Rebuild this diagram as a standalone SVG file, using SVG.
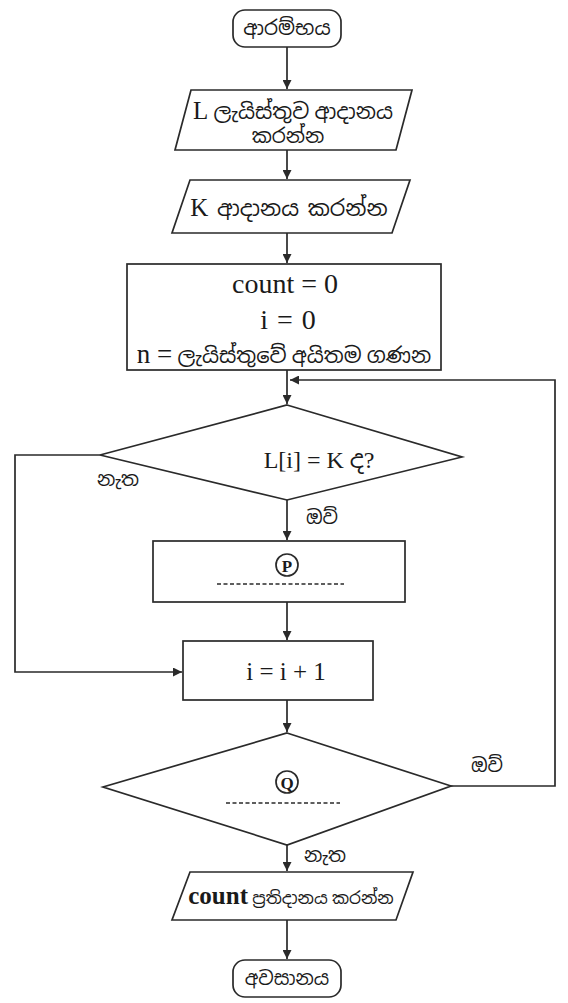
<svg xmlns="http://www.w3.org/2000/svg" width="568" height="1003" viewBox="0 0 568 1003">
<defs>
<style>
.s{fill:#fff;stroke:#2a2a2a;stroke-width:1.7}
.c{fill:none;stroke:#2a2a2a;stroke-width:1.7}
.t{font-family:"Liberation Serif","Noto Sans Sinhala","Noto Serif Sinhala",serif;fill:#1a1a1a;text-anchor:middle}
.la{font-size:28px}
.d{stroke:#2a2a2a;stroke-width:1.3;stroke-dasharray:4 2.5;fill:none}
</style>
<marker id="a" viewBox="0 0 10 10" refX="10" refY="5" markerWidth="10" markerHeight="9" orient="auto" markerUnits="userSpaceOnUse">
<path d="M0,0 L10,5 L0,10 z" fill="#2a2a2a"/>
</marker>
</defs>
<rect width="568" height="1003" fill="#fff"/>
<g id="connectors">
<line class="c" x1="287" y1="47" x2="287" y2="89" marker-end="url(#a)"/>
<line class="c" x1="287" y1="150" x2="287" y2="179" marker-end="url(#a)"/>
<line class="c" x1="287" y1="233" x2="287" y2="263" marker-end="url(#a)"/>
<line class="c" x1="287" y1="370" x2="287" y2="404" marker-end="url(#a)"/>
<polyline class="c" points="451,786 555,786 555,380 290,380" marker-end="url(#a)"/>
<polyline class="c" points="100,455 15,455 15,672 182,672" marker-end="url(#a)"/>
<line class="c" x1="287" y1="500" x2="287" y2="540" marker-end="url(#a)"/>
<line class="c" x1="287" y1="602" x2="287" y2="640" marker-end="url(#a)"/>
<line class="c" x1="287" y1="700" x2="287" y2="732" marker-end="url(#a)"/>
<line class="c" x1="287" y1="845" x2="287" y2="871" marker-end="url(#a)"/>
<line class="c" x1="287" y1="920" x2="287" y2="959" marker-end="url(#a)"/>
<text class="t" x="118" y="486" font-size="19">නැත</text>
<text class="t" x="322" y="524" font-size="19">ඔව්</text>
<text class="t" x="487" y="772" font-size="19">ඔව්</text>
<text class="t" x="325" y="862" font-size="19">නැත</text>
</g>
<g id="start">
<rect class="s" x="233" y="10" width="108" height="37" rx="12"/>
<text class="t" x="287" y="35" font-size="20">ආරම්භය</text>
</g>
<g id="inputL">
<polygon class="s" points="191,90 412,90 396,150 175,150"/>
<text class="t" x="293" y="119" font-size="21"><tspan font-size="25">L</tspan> ලැයිස්තුව ආදානය</text>
<text class="t" x="288" y="143" font-size="20">කරන්න</text>
</g>
<g id="inputK">
<polygon class="s" points="190,180 410,180 392,233 172,233"/>
<text class="t" x="289" y="216" font-size="22" word-spacing="3"><tspan font-size="25">K</tspan> ආදානය කරන්න</text>
</g>
<g id="init">
<rect class="s" x="127" y="264" width="314" height="106"/>
<text class="t la" x="285" y="293">count = 0</text>
<text class="t la" x="288" y="329" word-spacing="2">i = 0</text>
<text class="t" x="284" y="363" font-size="21"><tspan font-size="27">n =</tspan> ලැයිස්තුවේ අයිතම ගණන</text>
</g>
<g id="decision1">
<polygon class="s" points="287,405 462,457 287,500 100,455"/>
<text class="t" x="319" y="468" font-size="24">L[i] = K ද?</text>
</g>
<g id="P">
<rect class="s" x="153" y="541" width="252" height="61"/>
<circle class="c" cx="287" cy="565" r="11"/>
<text class="t" x="287" y="571.5" font-size="17" font-weight="bold">P</text>
<line class="d" x1="217" y1="584" x2="344" y2="584"/>
</g>
<g id="increment">
<rect class="s" x="183" y="641" width="190" height="59"/>
<text class="t" x="286" y="680" font-size="25">i = i + 1</text>
</g>
<g id="decision2">
<polygon class="s" points="287,733 451,786 287,845 103,787"/>
<circle class="c" cx="287" cy="782" r="11"/>
<text class="t" x="287" y="788.5" font-size="17" font-weight="bold">Q</text>
<line class="d" x1="226" y1="803" x2="340" y2="803"/>
</g>
<g id="output">
<polygon class="s" points="190,872 413,872 396,920 172,920"/>
<text class="t" x="291" y="904" font-size="17"><tspan font-size="25" font-weight="bold">count</tspan> ප්‍රතිදානය කරන්න</text>
</g>
<g id="end">
<rect class="s" x="233" y="960" width="108" height="37" rx="12"/>
<text class="t" x="287" y="985" font-size="19">අවසානය</text>
</g>
</svg>
